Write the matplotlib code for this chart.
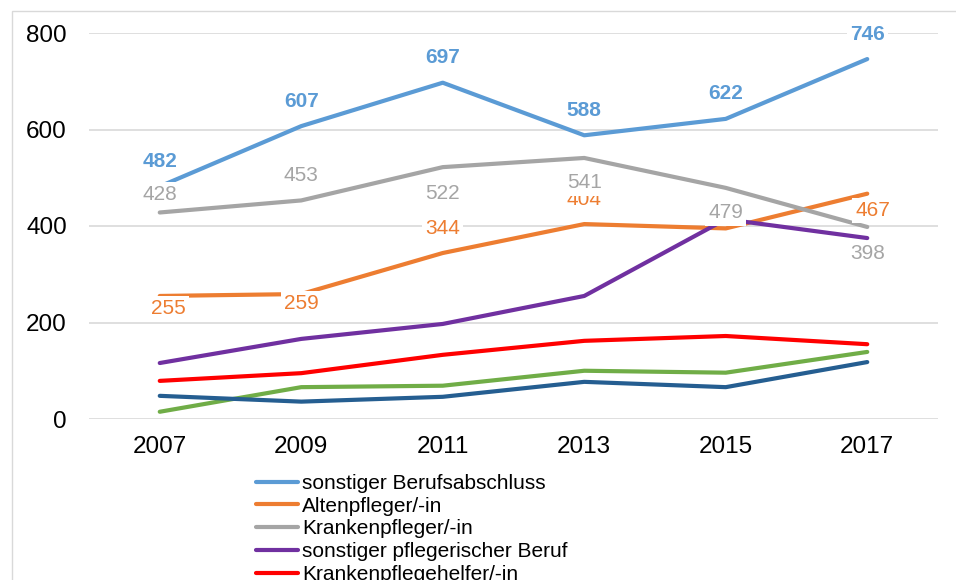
import matplotlib
matplotlib.use('Agg')
import matplotlib.pyplot as plt
from matplotlib.patches import Rectangle

plt.rcParams['font.family'] = ['Liberation Sans', 'DejaVu Sans']

# data
years = ['2007', '2009', '2011', '2013', '2015', '2017']
sonstiger_abschluss = [482, 607, 697, 588, 622, 746]
altenpfleger = [255, 259, 344, 404, 395, 467]
krankenpfleger = [428, 453, 522, 541, 479, 398]
sonstiger_pflege = [116, 166, 197, 255, 414, 375]
krankenpflegehelfer = [79, 95, 133, 162, 172, 155]
altenpflegehelfer = [15, 66, 69, 100, 96, 139]
ohne_abschluss = [48, 36, 46, 77, 66, 118]

series = [
    ('sonstiger Berufsabschluss', sonstiger_abschluss, '#5B9BD5'),
    ('Altenpfleger/-in', altenpfleger, '#ED7D31'),
    ('Krankenpfleger/-in', krankenpfleger, '#A5A5A5'),
    ('sonstiger pflegerischer Beruf', sonstiger_pflege, '#7030A0'),
    ('Krankenpflegehelfer/-in', krankenpflegehelfer, '#FF0000'),
    ('Altenpflegehelfer/-in', altenpflegehelfer, '#70AD47'),
    ('ohne Berufsabschluss', ohne_abschluss, '#255E91'),
]

# label offsets in points (positive = below the point)
blue_off = [-18, -18, -18, -18, -18, -18]
orange_off = [9, 7, -18, -18, -14, 12]
orange_dx = [6, 0, 0, 0, 0, 4]
gray_off = [-13, -18, 19, 18, 18, 19]

fig = plt.figure(figsize=(9.56, 5.8), dpi=100)
ax = fig.add_axes([89/956, 1-419/580, (938-89)/956, (419-33)/580])

x = list(range(len(years)))
for name, vals, col in series:
    ax.plot(x, vals, color=col, lw=3, solid_capstyle='round', label=name, zorder=3)

box = dict(boxstyle='square,pad=0.15', fc='white', ec='none')

# orange labels first so the gray ones can cover them
for i, v in enumerate(altenpfleger):
    ax.annotate(str(v), (i, v), xytext=(orange_dx[i], -orange_off[i]), textcoords='offset points',
                ha='center', va='center', fontsize=15, color='#ED7D31', bbox=box, zorder=5)
for i, v in enumerate(krankenpfleger):
    ax.annotate(str(v), (i, v), xytext=(0, -gray_off[i]), textcoords='offset points',
                ha='center', va='center', fontsize=15, color='#A5A5A5', bbox=box, zorder=6)
for i, v in enumerate(sonstiger_abschluss):
    ax.annotate(str(v), (i, v), xytext=(0, -blue_off[i]), textcoords='offset points',
                ha='center', va='center', fontsize=15, fontweight='bold', color='#5B9BD5',
                bbox=box, zorder=6)

ax.set_xlim(-0.5, 5.5)
ax.set_ylim(0, 800)
ax.set_yticks([0, 200, 400, 600, 800])
ax.set_xticks(x)
ax.set_xticklabels(years)
ax.grid(axis='y', color='#D9D9D9', lw=1.2)
ax.set_axisbelow(True)
for s in ax.spines.values():
    s.set_visible(False)
ax.tick_params(axis='both', length=0, labelsize=17.5)
ax.tick_params(axis='y', pad=16)
ax.tick_params(axis='x', pad=12)

# legend at the bottom, partly cut off like the original
leg = fig.legend(loc='upper left', bbox_to_anchor=(256/956, 1-474/580), ncol=1, frameon=False,
                 fontsize=15, handlelength=2.0, handletextpad=0.2, labelspacing=0.18,
                 borderpad=0, borderaxespad=0)

# chart border
fig.add_artist(Rectangle((12/956, -0.2), 1.5, (580-11)/580 + 0.2, transform=fig.transFigure,
                         fill=False, ec='#D9D9D9', lw=1))

plt.savefig('out.png', dpi=100)
